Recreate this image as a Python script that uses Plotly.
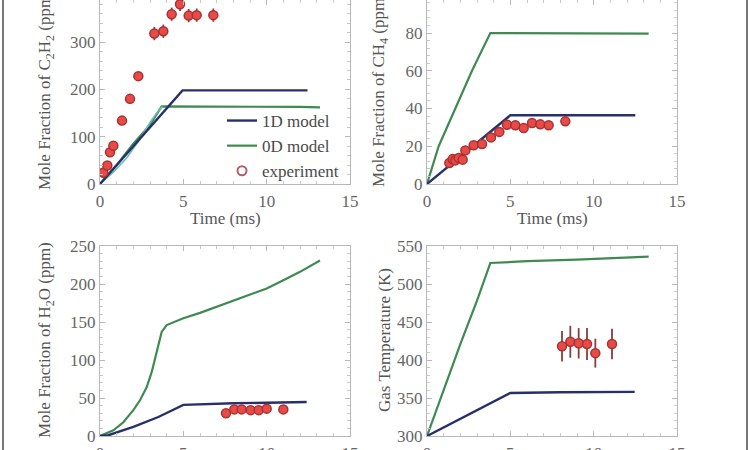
import plotly.graph_objects as go

# ---------------- data ----------------
# C2H2 panel
c2h2_exp_t = [0.2, 0.44, 0.6, 0.8, 1.32, 1.8, 2.3, 3.26, 3.8, 4.3, 4.8, 5.32, 5.8, 6.8]
c2h2_exp_v = [24, 39, 67, 81, 134, 180, 228, 318, 323, 359, 380, 356, 357, 357]
c2h2_exp_e = [5, 5, 6, 6, 6, 7, 9, 14, 14, 14, 14, 14, 14, 14]
c2h2_1d_t = [0, 1, 2, 3, 4, 4.95, 8, 12.45]
c2h2_1d_v = [0, 40, 80, 120, 160, 198, 198, 198]
c2h2_0d_t = [0, 1, 2, 3, 3.7, 6, 9, 12, 13.2]
c2h2_0d_v = [0, 40, 85, 125, 164, 164, 164, 163, 162]
c2h2_0d_ramp_t = [0, 0.8, 1.6, 2.4, 3.0, 3.4, 3.75]
c2h2_0d_ramp_v = [0, 25, 55, 95, 130, 150, 164]

# CH4 panel
ch4_exp_t = [1.34, 1.54, 1.7, 1.9, 2.14, 2.3, 2.8, 3.3, 3.84, 4.34, 4.8, 5.3, 5.8, 6.3, 6.8, 7.3, 8.3]
ch4_exp_v = [11.1, 13.2, 12.5, 13.8, 12.9, 17.8, 20.5, 21.2, 24.7, 27.6, 31.4, 31.1, 29.7, 32.3, 31.6, 31.1, 33.2]
ch4_exp_e = [2] * 17
ch4_1d_t = [0, 2.5, 5.0, 8, 12.5]
ch4_1d_v = [0, 18, 36.4, 36.4, 36.4]
ch4_0d_t = [0, 0.7, 1.7, 2.7, 3.8, 8, 13.3]
ch4_0d_v = [0, 20, 40, 60, 80, 80, 79.7]

# H2O panel
h2o_exp_t = [7.56, 8.06, 8.5, 9.04, 9.52, 10.0, 11.0]
h2o_exp_v = [30, 35, 35, 34, 34, 36, 35]
h2o_exp_e = [4, 4, 4, 4, 4, 4, 4]
h2o_1d_t = [0, 0.5, 2, 3.5, 5.0, 8, 12.4]
h2o_1d_v = [0, 1, 12, 25, 41, 43, 44.7]
h2o_0d_t = [0, 0.8, 1.4, 2.0, 2.4, 2.8, 3.1, 3.4, 3.7, 4.0, 4.4, 5, 6, 7, 8, 9, 10, 11, 12, 13.2]
h2o_0d_v = [0, 7.5, 18, 34, 47, 64, 84, 110, 137, 146, 150, 155, 162, 170, 177, 185, 194, 205, 216, 231]

# Temperature panel
temp_exp_t = [8.1, 8.6, 9.1, 9.6, 10.1, 11.1]
temp_exp_v = [418, 424, 422, 421, 409, 421]
temp_exp_e = [20, 21, 20, 21, 19, 20]
temp_1d_t = [0, 2.5, 5.0, 8, 12.46]
temp_1d_v = [300, 328, 356.6, 357.5, 358]
temp_0d_t = [0, 1, 2, 3, 3.8, 6, 9, 13.3]
temp_0d_v = [300, 361, 421, 478, 527.6, 530, 532, 536]

# ---------------- styles ----------------
C1D = "#28306a"
C0D = "#3f8a52"
CTEAL = "#6cc0b8"
MFILL = "#e84a48"
MEDGE = "#a83232"
EBAR = "#8a3c3c"
FONT = "Liberation Serif"

fig = go.Figure()

panels = [
    ("x", "y", c2h2_1d_t, c2h2_1d_v, c2h2_0d_t, c2h2_0d_v, c2h2_exp_t, c2h2_exp_v, c2h2_exp_e),
    ("x2", "y2", ch4_1d_t, ch4_1d_v, ch4_0d_t, ch4_0d_v, ch4_exp_t, ch4_exp_v, ch4_exp_e),
    ("x3", "y3", h2o_1d_t, h2o_1d_v, h2o_0d_t, h2o_0d_v, h2o_exp_t, h2o_exp_v, h2o_exp_e),
    ("x4", "y4", temp_1d_t, temp_1d_v, temp_0d_t, temp_0d_v, temp_exp_t, temp_exp_v, temp_exp_e),
]

for i, (xa, ya, t1, v1, t0, v0, te, ve, ee) in enumerate(panels):
    fig.add_trace(go.Scatter(x=t0, y=v0, mode="lines", line=dict(color=C0D, width=2.2),
                             xaxis=xa, yaxis=ya, showlegend=False))
    if i == 0:
        fig.add_trace(go.Scatter(x=c2h2_0d_ramp_t, y=c2h2_0d_ramp_v, mode="lines",
                                 line=dict(color=CTEAL, width=1.6), xaxis=xa, yaxis=ya,
                                 showlegend=False))
    fig.add_trace(go.Scatter(x=t1, y=v1, mode="lines", line=dict(color=C1D, width=2.4),
                             xaxis=xa, yaxis=ya, showlegend=False))
    fig.add_trace(go.Scatter(x=te, y=ve, mode="markers",
                             marker=dict(color=MFILL, size=9, line=dict(color=MEDGE, width=1.5)),
                             error_y=dict(type="data", array=ee, color=EBAR, thickness=1.8, width=0),
                             xaxis=xa, yaxis=ya, showlegend=False))

# legend entries (top-left panel)
fig.add_trace(go.Scatter(x=[None], y=[None], mode="lines", line=dict(color=C1D, width=2.4),
                         name="1D model", xaxis="x", yaxis="y"))
fig.add_trace(go.Scatter(x=[None], y=[None], mode="lines", line=dict(color=C0D, width=2.2),
                         name="0D model", xaxis="x", yaxis="y"))
fig.add_trace(go.Scatter(x=[None], y=[None], mode="markers",
                         marker=dict(color="rgba(0,0,0,0)", size=9, line=dict(color="#b0606a", width=2)),
                         name="experiment", xaxis="x", yaxis="y"))

W, H = 750, 450
def px_x(a, b):
    return [a / W, b / W]
def px_y(top, bottom):
    return [1 - bottom / H, 1 - top / H]

tickfont = dict(family=FONT, size=17, color="#666666")
titlefont = dict(family=FONT, size=17, color="#555555")

def xaxis(domain, anchor):
    return dict(domain=domain, anchor=anchor, range=[0, 15], tickvals=[0, 5, 10, 15],
                showline=True, linecolor="#b8b8b8", linewidth=1, mirror="allticks",
                ticks="inside", ticklen=5, tickcolor="#b8b8b8",
                minor=dict(ticks="inside", ticklen=3, dtick=1, tickcolor="#c8c8c8"),
                showgrid=False, zeroline=False, tickfont=tickfont, automargin=False,
                ticklabelstandoff=2)

def yaxis(domain, anchor, rng, dtick, minor_dtick):
    return dict(domain=domain, anchor=anchor, range=rng, dtick=dtick,
                showline=True, linecolor="#b8b8b8", linewidth=1, mirror="allticks",
                ticks="inside", ticklen=5, tickcolor="#b8b8b8",
                minor=dict(ticks="inside", ticklen=3, dtick=minor_dtick, tickcolor="#c8c8c8"),
                showgrid=False, zeroline=False, tickfont=tickfont, automargin=False)

def title_ann(text, xpx, ypx, angle=0):
    return dict(text=text, x=xpx / W, y=1 - ypx / H, xref="paper", yref="paper",
                showarrow=False, textangle=angle, font=titlefont,
                xanchor="center", yanchor="middle")

fig.update_layout(
    width=W, height=H,
    margin=dict(l=0, r=0, t=0, b=0),
    paper_bgcolor="white", plot_bgcolor="white",
    xaxis=xaxis(px_x(100, 350), "y"),
    yaxis=yaxis(px_y(0, 184), "x", [0, 389], 100, 20),
    xaxis2=xaxis(px_x(427, 677), "y2"),
    yaxis2=yaxis(px_y(0, 184), "x2", [0, 97.5], 20, 4),
    xaxis3=xaxis(px_x(100, 350), "y3"),
    yaxis3=yaxis(px_y(246, 436), "x3", [0, 250], 50, 10),
    xaxis4=xaxis(px_x(427, 677), "y4"),
    yaxis4=yaxis(px_y(246, 436), "x4", [300, 550], 50, 10),
    legend=dict(x=222 / W, y=1 - 103 / H, xanchor="left", yanchor="top",
                bgcolor="rgba(0,0,0,0)", font=dict(family=FONT, size=17, color="#4a4a4a"),
                itemwidth=30, tracegroupgap=0),
    annotations=[
        title_ann("Time (ms)", 225, 218),
        title_ann("Time (ms)", 552, 218),
        title_ann("Time (ms)", 225, 466),
        title_ann("Time (ms)", 552, 466),
        title_ann("Mole Fraction of C<sub>2</sub>H<sub>2</sub> (ppm)", 46, 90, -90),
        title_ann("Mole Fraction of CH<sub>4</sub> (ppm)", 380, 90, -90),
        title_ann("Mole Fraction of H<sub>2</sub>O (ppm)", 46, 340, -90),
        title_ann("Gas Temperature (K)", 384, 340, -90),
    ],
    shapes=[
        dict(type="line", xref="paper", yref="paper", x0=3 / W, x1=3 / W, y0=0, y1=1,
             line=dict(color="#777777", width=2)),
        dict(type="line", xref="paper", yref="paper", x0=747 / W, x1=747 / W, y0=0, y1=1,
             line=dict(color="#777777", width=2)),
    ],
)

fig.write_html("out.html")
